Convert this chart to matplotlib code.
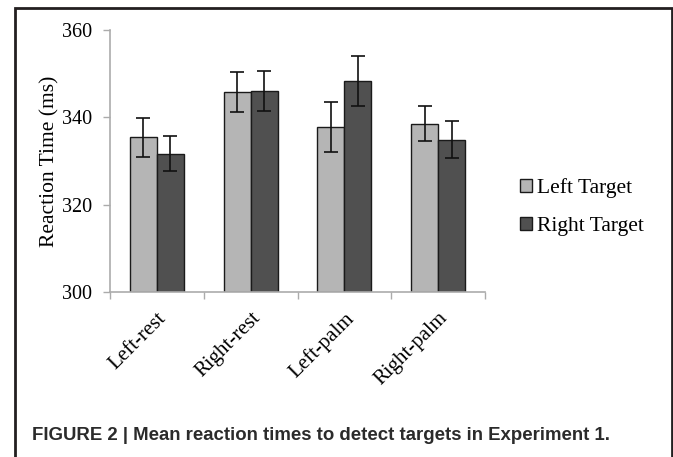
"""
plot.py - Mean reaction times (Experiment 1), grouped bars with error bars.
Output: out.png
"""
import matplotlib
matplotlib.use("Agg")
import matplotlib.pyplot as plt
from matplotlib.patches import Rectangle
import numpy as np

categories = ["Left-rest", "Right-rest", "Left-palm", "Right-palm"]
left_target = [335.4, 345.8, 337.8, 338.5]
left_err = [4.4, 4.6, 5.7, 4.0]
right_target = [331.7, 346.0, 348.3, 334.9]
right_err = [4.0, 4.5, 5.8, 4.2]
yticks = [300, 320, 340, 360]

SERIF = ["Liberation Serif", "DejaVu Serif"]
AXIS_GREY = "#ababab"

fig = plt.figure(figsize=(6.73, 4.57), dpi=100)
ax = fig.add_axes([110 / 673, 1 - 292 / 457, 375 / 673, 262 / 457])

x = np.arange(len(categories)) + 0.5
w = 0.287
ax.bar(x - w / 2, np.array(left_target) - 300, w, bottom=300, color="#b5b5b5",
       edgecolor="#1a1a1a", lw=1.0, label="Left Target", zorder=2)
ax.bar(x + w / 2, np.array(right_target) - 300, w, bottom=300, color="#505050",
       edgecolor="#1a1a1a", lw=1.0, label="Right Target", zorder=2)
ax.errorbar(x - w / 2, left_target, yerr=left_err, fmt="none", ecolor="#111111",
            elinewidth=1.2, capsize=5, capthick=1.2, zorder=3)
ax.errorbar(x + w / 2, right_target, yerr=right_err, fmt="none", ecolor="#111111",
            elinewidth=1.2, capsize=5, capthick=1.2, zorder=3)

ax.set_xlim(0, len(categories))
ax.set_ylim(300, 360)
ax.set_yticks(yticks)
ax.set_yticklabels([str(t) for t in yticks], family=SERIF, fontsize=14.5)

# tick marks at group boundaries, labels at group centres
ax.set_xticks(np.arange(len(categories) + 1))
ax.set_xticklabels([])
ax.set_xticks(x, minor=True)
ax.set_xticklabels(categories, minor=True, rotation=45, ha="right",
                   rotation_mode="anchor", family=SERIF, fontsize=15)
ax.tick_params(axis="x", which="minor", length=0, pad=12)
ax.tick_params(axis="x", which="major", length=5, color=AXIS_GREY, width=1)
ax.tick_params(axis="y", length=5, color=AXIS_GREY, width=1, pad=8)
for s in ["top", "right"]:
    ax.spines[s].set_visible(False)
for s in ["left", "bottom"]:
    ax.spines[s].set_color(AXIS_GREY)
    ax.spines[s].set_linewidth(1.2)

ax.set_ylabel("Reaction Time (ms)", family=SERIF, fontsize=15.5, labelpad=2)

ax.legend(loc="center left", bbox_to_anchor=(1.07, 0.324), frameon=False,
          prop={"family": SERIF, "size": 15.5}, handlelength=0.55,
          handleheight=0.55, handletextpad=0.25, labelspacing=0.85,
          borderaxespad=0)

cap = fig.text(32 / 673, 1 - 435 / 457,
               "FIGURE 2 | Mean reaction times to detect targets in Experiment 1.",
               family=["Liberation Sans", "DejaVu Sans"], weight="bold",
               fontsize=14, color="#2b2b2b", va="center", ha="left")
# caption fills ~579 px in the reference
fig.canvas.draw()
cw = cap.get_window_extent(fig.canvas.get_renderer()).width
cap.set_fontsize(14 * 579 / cw)

# page frame around the figure
fig.add_artist(Rectangle((15 / 673, -0.05), 657 / 673, 1.05 - 8 / 457,
                         transform=fig.transFigure, fill=False,
                         edgecolor="#231f20", lw=2.0))

fig.savefig("out.png", dpi=100)
